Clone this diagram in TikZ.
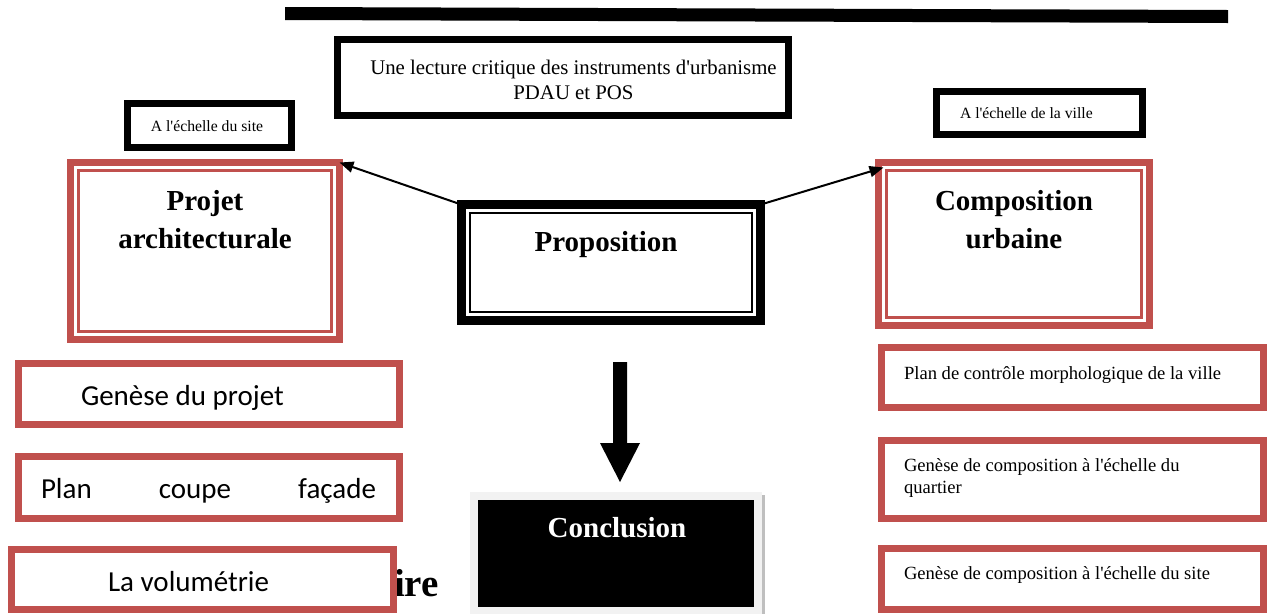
\documentclass[tikz,border=0pt]{standalone}
\usepackage{fontspec}
\setmainfont{Liberation Serif}[Ligatures=TeXOff]
\newfontfamily\calib{Carlito}[Ligatures=TeXOff]
\usetikzlibrary{arrows.meta}
\definecolor{wred}{HTML}{C0504D}
\definecolor{lgray}{HTML}{F2F2F2}
\definecolor{sgray}{HTML}{BFBFBF}
\tikzset{
  box/.style={draw, line width=#1, inner sep=0pt, outer sep=0pt, fill=white},
  blackbox/.style={box=7pt, draw=black},
  redbox/.style={box=7pt, draw=wred},
  thinred/.style={draw=wred, line width=2.6pt},
  thinblack/.style={draw=black, line width=2.3pt},
  txt/.style={inner sep=0pt, outer sep=0pt},
  small/.style={txt, font=\fontsize{15.7}{18}\selectfont},
  mid/.style={txt, font=\fontsize{18.6}{22.5}\selectfont},
  big/.style={txt, font=\fontsize{29}{38}\selectfont\bfseries, align=center},
  sans/.style={txt, font=\calib\fontsize{29}{34}\selectfont},
  arr/.style={line width=2pt, -{Triangle[length=14pt,width=11pt]}},
}
\begin{document}
\begin{tikzpicture}[x=1pt, y=-1pt]
\useasboundingbox (0,0) rectangle (1270,614);
% top bar
\fill[black] (285,7) -- (1228,10) -- (1228,23) -- (285,20) -- cycle;
% title
\node[blackbox, minimum width=451pt, minimum height=76pt] (title) at (563,77.5) {};
\node[txt, align=center, font=\fontsize{20.8}{25}\selectfont] (titletxt) at (573.5,80)
  {Une lecture critique des instruments d'urbanisme\\PDAU et POS};
% A l'echelle du site
\node[blackbox, minimum width=164pt, minimum height=44pt] (site) at (209.5,125.5) {};
\node[small] (sitetxt) at (207,126) {A l'échelle du site};
% A l'echelle de la ville
\node[blackbox, minimum width=206pt, minimum height=43pt] (ville) at (1039.5,113) {};
\node[small, anchor=west] (villetxt) at (960,113) {A l'échelle de la ville};
% Projet architecturale
\node[redbox, minimum width=269pt, minimum height=177pt] (projet) at (205,251) {};
\draw[thinred] ([shift={(8.1,8.1)}]projet.north west) rectangle ([shift={(-8.1,-8.1)}]projet.south east);
\node[big] (projettxt) at (205,219.5) {Projet\\architecturale};
% Composition urbaine
\node[redbox, minimum width=271pt, minimum height=163pt] (comp) at (1014,244) {};
\draw[thinred] ([shift={(8.1,8.1)}]comp.north west) rectangle ([shift={(-8.1,-8.1)}]comp.south east);
\node[big] (comptxt) at (1014,219.5) {Composition\\urbaine};
% Proposition
\node[box=9.3pt, draw=black, minimum width=298.7pt, minimum height=115.7pt] (prop) at (611,262.5) {};
\draw[thinblack] ([shift={(8.5,8.5)}]prop.north west) rectangle ([shift={(-8.5,-8.5)}]prop.south east);
\node[big] (proptxt) at (606,245) {Proposition};
% arrows
\draw[arr] (prop.north west) -- (projet.north east);
\draw[arr] (prop.north east) -- ([shift={(5,5)}]comp.north west);
% down arrow
\fill[black] (613,362) -- (627,362) -- (627,443) -- (640,443) -- (620,482) -- (600,443) -- (613,443) -- cycle;
% Conclusion
\fill[lgray] (470,492) rectangle (762,614);
\fill[sgray] (762,495) rectangle (765,614);
\node[fill=black, inner sep=0pt, outer sep=0pt, minimum width=276pt, minimum height=107pt] (concl) at (616,553.5) {};
\node[big, text=white] (concltxt) at (617,528) {Conclusion};
% hidden word tail
\node[txt, anchor=west, font=\fontsize{39}{44}\selectfont\bfseries] (ire) at (394,583) {ire};
% left boxes
\node[redbox, minimum width=381pt, minimum height=61pt] (gen) at (209,394) {};
\node[sans, anchor=west] (gentxt) at (81,397.5) {Genèse du projet};
\node[redbox, minimum width=381pt, minimum height=62pt] (pcf) at (209,487.5) {};
\node[sans, text width=335pt, anchor=west] (pcftxt) at (41,490.5) {Plan\hfill coupe\hfill façade};
\node[redbox, minimum width=382pt, minimum height=60pt] (vol) at (202.5,579.5) {};
\node[sans] (voltxt) at (188.5,581.5) {La volumétrie};
% right boxes
\node[redbox, minimum width=382pt, minimum height=60pt] (r1) at (1072.5,377.5) {};
\node[mid, anchor=west] (r1txt) at (904,375) {Plan de contrôle morphologique de la ville};
\node[redbox, minimum width=382pt, minimum height=78pt] (r2) at (1072.5,479.5) {};
\node[mid, anchor=west, align=left] (r2txt) at (904,478) {Genèse de composition à l'échelle du\\quartier};
\node[redbox, minimum width=382pt, minimum height=61pt] (r3) at (1072.5,579) {};
\node[mid, anchor=west] (r3txt) at (904,575) {Genèse de composition à l'échelle du site};
\end{tikzpicture}
\end{document}
